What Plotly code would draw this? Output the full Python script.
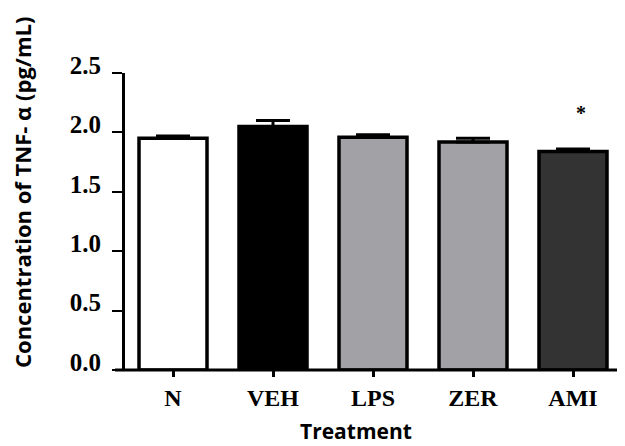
import plotly.graph_objects as go

categories = ["N", "VEH", "LPS", "ZER", "AMI"]
means = [1.95, 2.05, 1.96, 1.92, 1.84]
sems = [0.02, 0.05, 0.02, 0.03, 0.02]
colors = ["#FFFFFF", "#000000", "#A2A1A6", "#A2A1A6", "#333333"]
y_ticks = [0.0, 0.5, 1.0, 1.5, 2.0, 2.5]
y_ticktext = ["0.0", "0.5", "1.0", "1.5", "2.0", "2.5"]
sig_marks = [("AMI", 2.16, "*")]

W, H = 625, 446
OFFX, OFFY = 8, 8  # page offset observed in rendering
L, R, T, B = 125 - OFFX, 5 + OFFX, 73 - OFFY, 76 + OFFY
pw = W - L - R
ph = H - T - B


def px_x(px):
    return (px - OFFX - L) / pw


def px_y(py):
    return (H - B - (py - OFFY)) / ph


SERIF = "Liberation Serif, Times New Roman, serif"
SANS = "Open Sans, Arial, sans-serif"

fig = go.Figure()
fig.add_trace(go.Bar(
    x=list(range(len(categories))),
    y=means,
    width=0.68,
    marker=dict(color=colors, line=dict(color="black", width=3.5)),
    error_y=dict(type="data", array=sems, arrayminus=[0] * len(sems),
                 symmetric=False, color="black", thickness=3, width=17),
    showlegend=False,
))

for cat, yv, txt in sig_marks:
    fig.add_annotation(x=categories.index(cat) + 0.08, y=yv, text="<b>" + txt + "</b>",
                       showarrow=False, xanchor="center", yanchor="middle",
                       font=dict(family=SERIF, size=20, color="black"))

# x-axis line extended slightly left of the y-axis (GraphPad style)
fig.add_shape(type="line", xref="paper", yref="paper",
              x0=-10 / pw, x1=1, y0=0, y1=0,
              line=dict(color="black", width=3))

fig.add_annotation(text="<b>Concentration of TNF- α (pg/mL)</b>",
                   xref="paper", yref="paper",
                   x=px_x(22), y=px_y(193),
                   xanchor="center", yanchor="middle",
                   textangle=-90, showarrow=False,
                   font=dict(family=SANS, size=22, color="black"))
fig.add_annotation(text="<b>Treatment</b>",
                   xref="paper", yref="paper",
                   x=px_x(356), y=px_y(431),
                   xanchor="center", yanchor="middle",
                   showarrow=False,
                   font=dict(family=SANS, size=21, color="black"))

fig.update_layout(
    width=W, height=H,
    margin=dict(l=L, r=R, t=T, b=B, autoexpand=False),
    paper_bgcolor="white", plot_bgcolor="white",
)
fig.update_xaxes(
    range=[-0.48, 4.47],
    tickvals=list(range(len(categories))),
    ticktext=["<b>" + c + "</b>" for c in categories],
    ticks="outside", ticklen=6, tickwidth=3, tickcolor="black",
    showline=False, showgrid=False, zeroline=False,
    ticklabelstandoff=0,
    tickfont=dict(family=SERIF, size=24, color="black"),
)
fig.update_yaxes(
    range=[0, 2.5],
    tickvals=y_ticks, ticktext=["<b>" + t + "</b>" for t in y_ticktext],
    ticks="outside", ticklen=10, tickwidth=2, tickcolor="black",
    showline=True, linecolor="black", linewidth=3,
    showgrid=False, zeroline=False,
    ticklabelshift=-8,
    ticklabelstandoff=6,
    tickfont=dict(family=SERIF, size=25, color="black"),
)

fig.write_html("out.html")
